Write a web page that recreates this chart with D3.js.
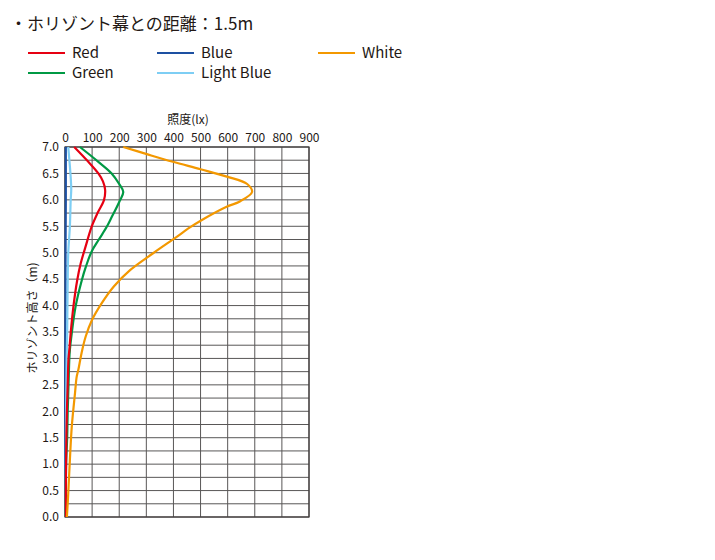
<!DOCTYPE html>
<html>
<head>
<meta charset="utf-8">
<script src="https://cdn.jsdelivr.net/npm/d3@7"></script>
<style>
  body { margin: 0; background: #fff; }
  text { font-family: "Noto Sans CJK JP", "Noto Sans", sans-serif; fill: #231815; }
</style>
</head>
<body>
<div id="chart"></div>
<script>
// heights (m) and illuminance (lx)
const heightsWhite = [0, 0.45, 1.08, 1.71, 2.35, 2.65, 2.78, 3.10, 3.41, 3.73, 4.04, 4.36, 4.67, 4.99, 5.30, 5.46, 5.62, 5.87, 5.97, 6.15, 6.30, 6.44, 6.58, 6.72, 6.86, 7.0];
const white = [7, 12, 18, 25, 37, 43, 49, 61, 76, 100, 135, 180, 240, 325, 412, 455, 505, 596, 645, 690, 672, 597, 500, 398, 305, 215];

const heightsRed = [0, 0.5, 1.0, 1.5, 2.0, 2.5, 3.0, 3.16, 3.48, 3.98, 4.48, 4.8, 5.1, 5.49, 5.75, 6.0, 6.19, 6.35, 6.5, 6.72, 7.0];
const red = [3, 3, 4, 5, 7, 10, 13, 16, 21, 31, 45, 58, 75, 98, 120, 144, 148, 140, 123, 86, 34];

const heightsGreen = [0, 0.5, 1.0, 1.5, 2.0, 2.5, 3.0, 3.16, 3.48, 3.98, 4.48, 4.75, 5.02, 5.25, 5.49, 5.65, 5.96, 6.15, 6.3, 6.5, 6.72, 7.0];
const green = [2, 3, 4, 8, 10, 13, 16, 18, 25, 39, 62, 78, 98, 125, 154, 170, 200, 215, 200, 172, 123, 55];

const heightsBlue = [0, 1.0, 2.0, 3.0, 4.0, 5.0, 6.0, 6.5, 7.0];
const blue = [1, 1, 1, 1, 2, 2, 3, 3, 3];

const heightsLight = [0, 1.0, 2.0, 3.0, 3.5, 4.0, 4.5, 5.0, 5.5, 6.0, 6.2, 6.5, 7.0];
const lightBlue = [2, 3, 4, 6, 8, 9, 10, 12, 18, 21, 23, 20, 12];

const xTicks = [0, 100, 200, 300, 400, 500, 600, 700, 800, 900];
const yTicks = [0, 0.5, 1.0, 1.5, 2.0, 2.5, 3.0, 3.5, 4.0, 4.5, 5.0, 5.5, 6.0, 6.5, 7.0];
const yGrid = d3.range(0, 7.01, 0.25);

const series = [
  { name: "Blue", color: "#1d50a2", h: heightsBlue, v: blue },
  { name: "Light Blue", color: "#7ecef4", h: heightsLight, v: lightBlue },
  { name: "Green", color: "#009944", h: heightsGreen, v: green },
  { name: "Red", color: "#e60012", h: heightsRed, v: red },
  { name: "White", color: "#f39800", h: heightsWhite, v: white }
];

const legendRows = [["Red", "Blue", "White"], ["Green", "Light Blue"]];
const legendX = [28, 157, 318];

const W = 715, H = 560;
const plot = { left: 65, right: 309, top: 147, bottom: 517 };

const svg = d3.select("#chart").append("svg")
  .attr("width", W)
  .attr("height", H);

svg.append("text")
  .attr("x", 10)
  .attr("y", 30)
  .attr("font-size", "17px")
  .text("・ホリゾント幕との距離：1.5m");

// legend
const colorOf = name => series.find(s => s.name === name).color;
legendRows.forEach((row, ri) => {
  row.forEach((name, ci) => {
    const y = 53 + ri * 20;
    const g = svg.append("g").attr("transform", `translate(${legendX[ci]},${y})`);
    g.append("line")
      .attr("x1", 0).attr("x2", 37)
      .attr("stroke", colorOf(name))
      .attr("stroke-width", 2.2);
    g.append("text")
      .attr("x", 44)
      .attr("y", 5)
      .attr("font-size", "15px")
      .text(name);
  });
});

const x = d3.scaleLinear().domain([0, 900]).range([plot.left, plot.right]);
const y = d3.scaleLinear().domain([0, 7]).range([plot.bottom, plot.top]);

// grid
svg.append("g")
  .selectAll("line")
  .data(yGrid)
  .enter().append("line")
  .attr("x1", plot.left).attr("x2", plot.right)
  .attr("y1", d => y(d)).attr("y2", d => y(d))
  .attr("stroke", "#595757")
  .attr("stroke-width", 1);

svg.append("g")
  .selectAll("line")
  .data(xTicks)
  .enter().append("line")
  .attr("x1", d => x(d)).attr("x2", d => x(d))
  .attr("y1", plot.top).attr("y2", plot.bottom)
  .attr("stroke", "#595757")
  .attr("stroke-width", 1);

svg.append("rect")
  .attr("x", plot.left).attr("y", plot.top)
  .attr("width", plot.right - plot.left)
  .attr("height", plot.bottom - plot.top)
  .attr("fill", "none")
  .attr("stroke", "#3e3a39")
  .attr("stroke-width", 1.2);

// axes (labels only, the grid draws the lines)
const xAxis = svg.append("g")
  .attr("transform", `translate(0,${plot.top - 2})`)
  .call(d3.axisTop(x).tickValues(xTicks).tickSize(0).tickFormat(d3.format("d")));
xAxis.select(".domain").remove();
xAxis.selectAll("text")
  .attr("font-size", "12px")
  .attr("font-family", "Noto Sans CJK JP")
  .attr("fill", "#231815");

const yAxis = svg.append("g")
  .attr("transform", `translate(${plot.left - 3},0)`)
  .call(d3.axisLeft(y).tickValues(yTicks).tickSize(0).tickFormat(d3.format(".1f")));
yAxis.select(".domain").remove();
yAxis.selectAll("text")
  .attr("font-size", "12px")
  .attr("font-family", "Noto Sans CJK JP")
  .attr("fill", "#231815");

svg.append("text")
  .attr("x", 188)
  .attr("y", 124)
  .attr("text-anchor", "middle")
  .attr("font-size", "12px")
  .text("照度(lx)");

svg.append("text")
  .attr("transform", "translate(37,318) rotate(-90)")
  .attr("text-anchor", "middle")
  .attr("font-size", "12px")
  .text("ホリゾント高さ（m)");

// curves
const line = d3.line()
  .x(d => x(d[1]))
  .y(d => y(d[0]))
  .curve(d3.curveCatmullRom.alpha(0.5));

series.forEach(s => {
  svg.append("path")
    .datum(s.h.map((h, i) => [h, s.v[i]]))
    .attr("d", line)
    .attr("fill", "none")
    .attr("stroke", s.color)
    .attr("stroke-width", 2.2);
});
</script>
</body>
</html>
